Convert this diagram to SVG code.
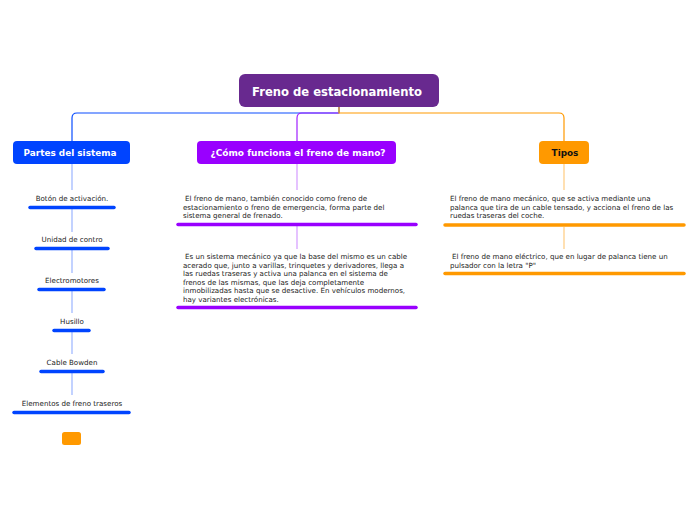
<svg xmlns="http://www.w3.org/2000/svg" width="696" height="520" viewBox="0 0 696 520">
<style>
text{font-family:"DejaVu Sans","Verdana",sans-serif;}
.t{font-weight:bold;text-anchor:middle;}
.s{font-size:7.1px;fill:#222;}
.c{text-anchor:middle;}
.bb{stroke:#0044ff;stroke-width:3.5;stroke-linecap:round;}
.pb{stroke:#9900ff;stroke-width:3.5;stroke-linecap:round;}
.ob{stroke:#ff9900;stroke-width:3.5;stroke-linecap:round;}
.lb{stroke:#9bb5ff;stroke-width:1.2;fill:none;}
.lp{stroke:#d49bff;stroke-width:1.2;fill:none;}
.lo{stroke:#ffcc80;stroke-width:1.2;fill:none;}
</style>
<rect width="696" height="520" fill="#ffffff"/>
<g id="connectors" fill="none" stroke-width="1.2">
<path d="M339,107 V113 H77 Q72,113 72,118 V141" stroke="#0a4dff"/>
<path d="M339,113 H302 Q297,113 297,118 V141" stroke="#a020ff"/>
<path d="M339,107 V113 H559 Q564,113 564,118 V141" stroke="#ff9900"/>
<path class="lb" d="M72,164 V190 M72,209 V232 M72,250 V273 M72,291 V313 M72,332 V354 M72,373 V395"/>
<path class="lp" d="M297,164 V190 M297,226 V249"/>
<path class="lo" d="M564,164 V190 M564,227 V249"/>
</g>
<g id="root">
<rect x="239" y="74" width="200" height="33" rx="6" fill="#68298f"/>
<text class="t" x="337" y="95.5" font-size="11.6" fill="#fff">Freno de estacionamiento</text>
</g>
<g id="partes">
<rect x="13" y="141" width="117" height="23" rx="4" fill="#0044ff"/>
<text class="t" x="70" y="156" font-size="8.9" fill="#fff">Partes del sistema</text>
</g>
<g id="como">
<rect x="197" y="141" width="199" height="23" rx="4" fill="#9900ff"/>
<text class="t" x="298" y="156" font-size="9" fill="#fff">¿Cómo funciona el freno de mano?</text>
</g>
<g id="tipos">
<rect x="539" y="141" width="50" height="23" rx="4" fill="#ff9900"/>
<text class="t" x="565" y="156" font-size="8.9" fill="#111">Tipos</text>
</g>
<g id="boton"><text class="s c" x="72" y="201">Botón de activación.</text><line class="bb" x1="30" y1="207.5" x2="114" y2="207.5"/></g>
<g id="unidad"><text class="s c" x="72" y="242">Unidad de contro</text><line class="bb" x1="36" y1="248.5" x2="108" y2="248.5"/></g>
<g id="electro"><text class="s c" x="72" y="283">Electromotores</text><line class="bb" x1="39" y1="289.5" x2="104" y2="289.5"/></g>
<g id="husillo"><text class="s c" x="72" y="324">Husillo</text><line class="bb" x1="54" y1="330.5" x2="89" y2="330.5"/></g>
<g id="cable"><text class="s c" x="72" y="365">Cable Bowden</text><line class="bb" x1="41" y1="371.5" x2="103" y2="371.5"/></g>
<g id="elementos"><text class="s c" x="72" y="406">Elementos de freno traseros</text><line class="bb" x1="14" y1="412.5" x2="129" y2="412.5"/></g>
<g id="orange-small"><rect x="62" y="432" width="19" height="13" rx="2.5" fill="#ff9900"/></g>
<g id="p1">
<text class="s" x="183" y="201"><tspan x="185">El freno de mano, también conocido como freno de</tspan><tspan x="183" dy="8.6">estacionamiento o freno de emergencia, forma parte del</tspan><tspan x="183" dy="8.6">sistema general de frenado.</tspan></text>
<line class="pb" x1="178" y1="224.5" x2="416" y2="224.5"/>
</g>
<g id="p2">
<text class="s" x="183" y="259"><tspan x="185">Es un sistema mecánico ya que la base del mismo es un cable</tspan><tspan x="183" dy="8.6">acerado que, junto a varillas, trinquetes y derivadores, llega a</tspan><tspan x="183" dy="8.6">las ruedas traseras y activa una palanca en el sistema de</tspan><tspan x="183" dy="8.6">frenos de las mismas, que las deja completamente</tspan><tspan x="183" dy="8.6">inmobilizadas hasta que se desactive. En vehículos modernos,</tspan><tspan x="183" dy="8.6">hay variantes electrónicas.</tspan></text>
<line class="pb" x1="178" y1="307.5" x2="416" y2="307.5"/>
</g>
<g id="t1">
<text class="s" x="450" y="201"><tspan x="450">El freno de mano mecánico, que se activa mediante una</tspan><tspan x="450" dy="8.6">palanca que tira de un cable tensado, y acciona el freno de las</tspan><tspan x="450" dy="8.6">ruedas traseras del coche.</tspan></text>
<line class="ob" x1="445" y1="225" x2="684" y2="225"/>
</g>
<g id="t2">
<text class="s" x="450" y="259"><tspan x="452">El freno de mano eléctrico, que en lugar de palanca tiene un</tspan><tspan x="450" dy="8.6">pulsador con la letra "P"</tspan></text>
<line class="ob" x1="445" y1="273.5" x2="684" y2="273.5"/>
</g>
</svg>
